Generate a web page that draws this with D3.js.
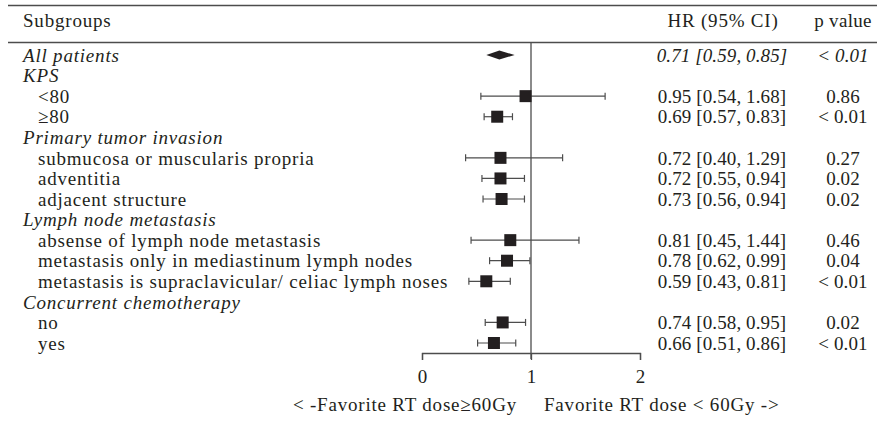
<!DOCTYPE html>
<html>
<head>
<meta charset="utf-8">
<script src="https://cdn.jsdelivr.net/npm/d3@7"></script>
<style>
  body { margin: 0; background: #fff; }
  text { font-family: "Liberation Serif", "Times New Roman", serif; fill: #231f20; }
</style>
</head>
<body>
<div id="chart"></div>
<script>
var width = 878;
var height = 421;

// rows of the forest plot (heading rows have no estimate)
var labels = ["All patients", "KPS", "<80", "\u226580", "Primary tumor invasion",
  "submucosa or muscularis propria", "adventitia", "adjacent structure",
  "Lymph node metastasis", "absense of lymph node metastasis",
  "metastasis only in mediastinum lymph nodes",
  "metastasis is supraclavicular/ celiac lymph noses",
  "Concurrent chemotherapy", "no", "yes"];
var kinds = ["total", "head", "sub", "sub", "head", "sub", "sub", "sub",
  "head", "sub", "sub", "sub", "head", "sub", "sub"];
var hr    = [0.71, null, 0.95, 0.69, null, 0.72, 0.72, 0.73, null, 0.81, 0.78, 0.59, null, 0.74, 0.66];
var lower = [0.59, null, 0.54, 0.57, null, 0.40, 0.55, 0.56, null, 0.45, 0.62, 0.43, null, 0.58, 0.51];
var upper = [0.85, null, 1.68, 0.83, null, 1.29, 0.94, 0.94, null, 1.44, 0.99, 0.81, null, 0.95, 0.86];
var pvals = ["< 0.01", "", "0.86", "< 0.01", "", "0.27", "0.02", "0.02", "", "0.46", "0.04", "< 0.01", "", "0.02", "< 0.01"];
var xTicks = [0, 1, 2];

var fmt = d3.format(".2f");

var svg = d3.select("#chart").append("svg")
  .attr("width", width)
  .attr("height", height);

var x = d3.scaleLinear().domain([0, 2]).range([422, 640]);
var y = d3.scalePoint().domain(d3.range(labels.length)).range([55, 343]);

var lineCol = "#4d4d4d";
var fs = "19px";
var ls = "0.8px";   // words set a bit wider, like the original face
var lsNum = "0.1px";

// header rules
svg.append("line").attr("x1", 8).attr("x2", 877).attr("y1", 5.5).attr("y2", 5.5)
  .attr("stroke", lineCol).attr("stroke-width", 1.3);
svg.append("line").attr("x1", 8).attr("x2", 877).attr("y1", 42.5).attr("y2", 42.5)
  .attr("stroke", lineCol).attr("stroke-width", 1.3);

svg.append("text").attr("x", 23).attr("y", 27).attr("font-size", fs)
  .attr("letter-spacing", ls).text("Subgroups");
svg.append("text").attr("x", 723).attr("y", 27).attr("text-anchor", "middle").attr("font-size", fs)
  .attr("letter-spacing", ls).text("HR (95% CI)");
svg.append("text").attr("x", 843).attr("y", 27).attr("text-anchor", "middle").attr("font-size", fs)
  .attr("letter-spacing", "0.3px").text("p value");

// no-effect line
svg.append("line")
  .attr("x1", x(1)).attr("x2", x(1))
  .attr("y1", 42.5).attr("y2", 359)
  .attr("stroke", lineCol).attr("stroke-width", 1.3);

// axis
var axis = svg.append("g")
  .attr("transform", "translate(0,353)")
  .call(d3.axisBottom(x).tickValues(xTicks).tickSize(7).tickPadding(10).tickFormat(d3.format("d")));
axis.select(".domain").attr("stroke", lineCol).attr("stroke-width", 1.3);
axis.selectAll(".tick line").attr("stroke", lineCol).attr("stroke-width", 1.3);
axis.selectAll(".tick text")
  .attr("font-family", "Liberation Serif, serif")
  .attr("font-size", fs)
  .attr("fill", "#231f20");

svg.append("text").attr("x", x(1) - 14).attr("y", 411).attr("text-anchor", "end")
  .attr("font-size", fs).attr("letter-spacing", ls).text("< -Favorite RT dose\u226560Gy");
svg.append("text").attr("x", x(1) + 13).attr("y", 411)
  .attr("font-size", fs).attr("letter-spacing", ls).text("Favorite RT dose < 60Gy ->");

// left labels
svg.append("g").selectAll("text")
  .data(labels)
  .enter()
  .append("text")
  .attr("x", function(d, i) { return kinds[i] == "sub" ? 38 : 23; })
  .attr("y", function(d, i) { return y(i); })
  .attr("dy", "0.35em")
  .attr("font-size", fs)
  .attr("letter-spacing", ls)
  .attr("font-style", function(d, i) { return kinds[i] == "sub" ? "normal" : "italic"; })
  .text(function(d) { return d; });

var idx = d3.range(labels.length).filter(function(i) { return hr[i] != null; });

// HR text and p values
svg.append("g").selectAll("text")
  .data(idx)
  .enter()
  .append("text")
  .attr("x", 722)
  .attr("y", function(i) { return y(i); })
  .attr("dy", "0.35em")
  .attr("text-anchor", "middle")
  .attr("font-size", fs)
  .attr("letter-spacing", lsNum)
  .attr("font-style", function(i) { return kinds[i] == "total" ? "italic" : "normal"; })
  .text(function(i) { return fmt(hr[i]) + " [" + fmt(lower[i]) + ", " + fmt(upper[i]) + "]"; });

svg.append("g").selectAll("text")
  .data(idx)
  .enter()
  .append("text")
  .attr("x", 843)
  .attr("y", function(i) { return y(i); })
  .attr("dy", "0.35em")
  .attr("text-anchor", "middle")
  .attr("font-size", fs)
  .attr("letter-spacing", lsNum)
  .attr("font-style", function(i) { return kinds[i] == "total" ? "italic" : "normal"; })
  .text(function(i) { return pvals[i]; });

// error bars and boxes
var subs = idx.filter(function(i) { return kinds[i] == "sub"; });
var bars = svg.append("g").selectAll("g")
  .data(subs)
  .enter()
  .append("g");

bars.append("line")
  .attr("x1", function(i) { return x(lower[i]); })
  .attr("x2", function(i) { return x(upper[i]); })
  .attr("y1", function(i) { return y(i); })
  .attr("y2", function(i) { return y(i); })
  .attr("stroke", lineCol).attr("stroke-width", 1.2);

bars.append("line")
  .attr("x1", function(i) { return x(lower[i]); })
  .attr("x2", function(i) { return x(lower[i]); })
  .attr("y1", function(i) { return y(i) - 3.5; })
  .attr("y2", function(i) { return y(i) + 3.5; })
  .attr("stroke", lineCol).attr("stroke-width", 1.2);

bars.append("line")
  .attr("x1", function(i) { return x(upper[i]); })
  .attr("x2", function(i) { return x(upper[i]); })
  .attr("y1", function(i) { return y(i) - 3.5; })
  .attr("y2", function(i) { return y(i) + 3.5; })
  .attr("stroke", lineCol).attr("stroke-width", 1.2);

bars.append("rect")
  .attr("x", function(i) { return x(hr[i]) - 6; })
  .attr("y", function(i) { return y(i) - 6; })
  .attr("width", 12)
  .attr("height", 12)
  .attr("fill", "#231f20");

// diamond for all patients
var tot = idx.filter(function(i) { return kinds[i] == "total"; });
svg.append("g").selectAll("path")
  .data(tot)
  .enter()
  .append("path")
  .attr("d", function(i) {
    var cy = y(i);
    return "M" + x(lower[i]) + "," + cy + "L" + x(hr[i]) + "," + (cy - 4.5) +
      "L" + x(upper[i]) + "," + cy + "L" + x(hr[i]) + "," + (cy + 4.5) + "Z";
  })
  .attr("fill", "#231f20");
</script>
</body>
</html>
